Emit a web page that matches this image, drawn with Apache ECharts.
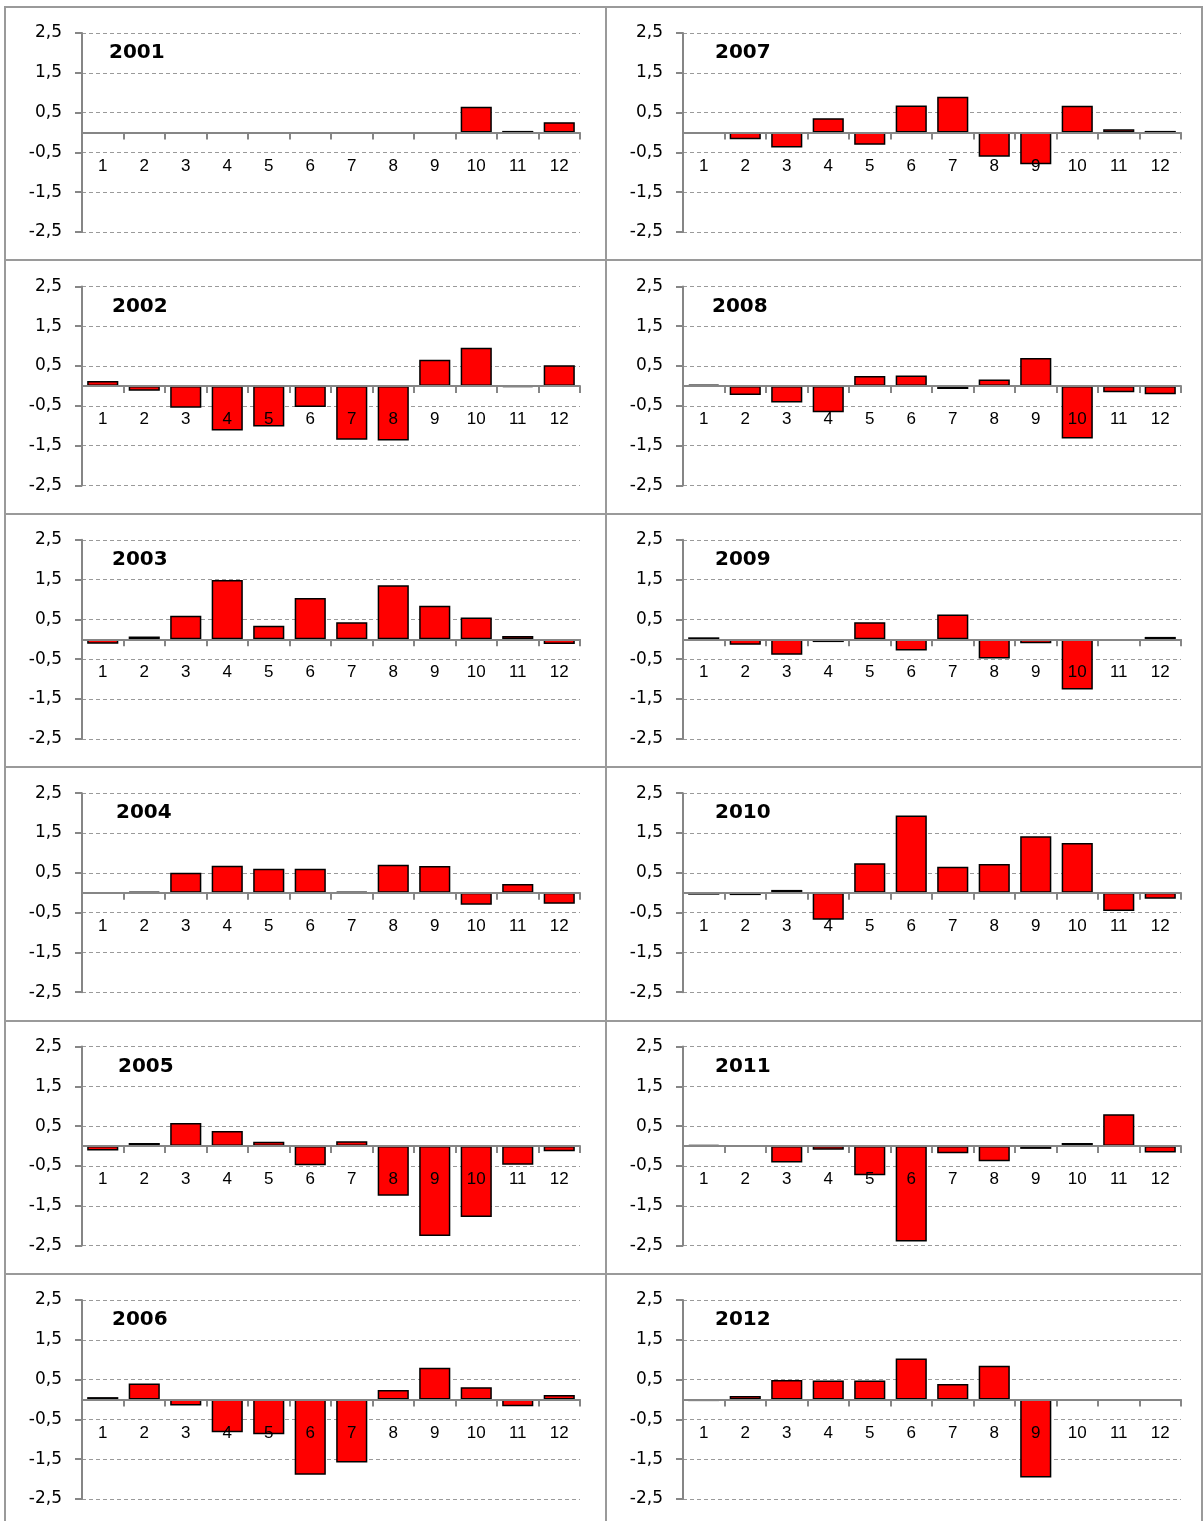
<!DOCTYPE html>
<html>
<head>
<meta charset="utf-8">
<script src="https://cdn.jsdelivr.net/npm/echarts@6/dist/echarts.min.js"></script>
<style>
  html, body { margin: 0; padding: 0; background: #fff; }
  #wrap { position: relative; width: 1203px; height: 1521px; }
  #main { position: absolute; left: 0; top: 0; width: 1203px; height: 1521px; }
  .rule { position: absolute; background: #9a9a9a; }
</style>
</head>
<body>
<div id="wrap"><div id="main"></div></div>
<script>
// monthly values, one array per year (null = no bar)
const months = ['1', '2', '3', '4', '5', '6', '7', '8', '9', '10', '11', '12'];
const years = ['2001', '2002', '2003', '2004', '2005', '2006', '2007', '2008', '2009', '2010', '2011', '2012'];
const yTicks = [-2.5, -1.5, -0.5, 0.5, 1.5, 2.5];

const v2001 = [null, null, null, null, null, null, null, null, null, 0.65, 0.04, 0.26];
const v2002 = [0.12, -0.12, -0.55, -1.12, -1.02, -0.53, -1.35, -1.37, 0.66, 0.96, -0.03, 0.52];
const v2003 = [-0.11, 0.07, 0.59, 1.49, 0.34, 1.04, 0.43, 1.36, 0.84, 0.55, 0.08, -0.12];
const v2004 = [-0.01, 0.02, 0.50, 0.68, 0.60, 0.60, 0.02, 0.70, 0.67, -0.30, 0.22, -0.28];
const v2005 = [-0.11, 0.08, 0.58, 0.38, 0.11, -0.48, 0.12, -1.25, -2.26, -1.78, -0.47, -0.13];
const v2006 = [0.06, 0.40, -0.15, -0.82, -0.87, -1.89, -1.58, 0.24, 0.80, 0.31, -0.17, 0.11];
const v2007 = [-0.01, -0.17, -0.38, 0.36, -0.31, 0.68, 0.90, -0.61, -0.80, 0.67, 0.08, 0.04];
const v2008 = [0.03, -0.23, -0.42, -0.66, 0.25, 0.26, -0.08, 0.16, 0.70, -1.32, -0.16, -0.21];
const v2009 = [0.05, -0.14, -0.39, -0.07, 0.43, -0.28, 0.62, -0.48, -0.10, -1.26, -0.02, 0.06];
const v2010 = [-0.05, -0.06, 0.07, -0.68, 0.74, 1.94, 0.65, 0.72, 1.42, 1.25, -0.46, -0.15];
const v2011 = [0.03, -0.01, -0.41, -0.09, -0.73, -2.40, -0.18, -0.38, -0.07, 0.08, 0.80, -0.16];
const v2012 = [-0.04, 0.09, 0.49, 0.48, 0.48, 1.03, 0.39, 0.85, -1.96, null, null, null];

const yearValues = [v2001, v2002, v2003, v2004, v2005, v2006, v2007, v2008, v2009, v2010, v2011, v2012];

// layout
const FAMILY = 'DejaVu Sans';
const COL_X = [82, 683];
const PLOT_W = 498, PLOT_H = 199;
const ROW_Y0 = 33, ROW_PITCH = 253.4;
const TITLE_DX = [27, 30, 30, 34, 36, 30, 32, 29, 32, 32, 32, 32];
const AXIS_GRAY = '#868686';

// table cell borders behind the (transparent) chart canvas
(function () {
	const wrap = document.getElementById('wrap');
	function rule(x, y, w, h) {
		const d = document.createElement('div');
		d.className = 'rule';
		d.style.left = x + 'px'; d.style.top = y + 'px';
		d.style.width = w + 'px'; d.style.height = h + 'px';
		wrap.insertBefore(d, wrap.firstChild);
	}
	for (let k = 0; k < 6; k++) rule(4, Math.round(6 + k * ROW_PITCH), 1199, 2);
	[4, 605, 1201].forEach(function (x) { rule(x, 6, 2, 1515); });
})();

const chart = echarts.init(document.getElementById('main'));

const grids = [], xAxes = [], yAxes = [], series = [], titles = [];
years.forEach(function (yr, i) {
	const col = i < 6 ? 0 : 1;
	const row = i % 6;
	const gLeft = COL_X[col];
	const gTop = ROW_Y0 + row * ROW_PITCH;
	grids.push({ left: gLeft, top: gTop, width: PLOT_W, height: PLOT_H });
	titles.push({
		text: yr,
		left: gLeft + TITLE_DX[i],
		top: gTop + 10,
		padding: 0,
		textStyle: { fontFamily: FAMILY, fontSize: 20, fontWeight: 'bold', color: '#000' }
	});
	// the category axis sits on the zero line, which is mid-height since the range is symmetric
	xAxes.push({
		type: 'category',
		gridIndex: i,
		data: months,
		position: 'bottom',
		offset: -PLOT_H / 2,
		z: 5,
		axisLine: { show: true, onZero: false, lineStyle: { color: AXIS_GRAY, width: 2 } },
		axisTick: { show: true, length: 7, lineStyle: { color: AXIS_GRAY, width: 2 } },
		axisLabel: { interval: 0, margin: 25, fontSize: 17, color: '#000' },
		splitLine: { show: false }
	});
	yAxes.push({
		type: 'value',
		gridIndex: i,
		min: yTicks[0],
		max: yTicks[yTicks.length - 1],
		interval: 1,
		axisLine: { show: true, onZero: false, lineStyle: { color: AXIS_GRAY, width: 2 } },
		axisTick: { show: true, length: 7, lineStyle: { color: AXIS_GRAY, width: 2 } },
		axisLabel: {
			margin: 20, fontFamily: FAMILY, fontSize: 17, color: '#000',
			formatter: function (v) { return String(v).replace('.', ','); }
		},
		splitLine: { show: true, lineStyle: { type: [4, 3], color: '#9a9a9a', width: 1 } }
	});
	series.push({
		type: 'bar',
		xAxisIndex: i,
		yAxisIndex: i,
		data: yearValues[i],
		barCategoryGap: '25%',
		itemStyle: { color: '#ff0000', borderColor: '#000', borderWidth: 1.5 }
	});
});

chart.setOption({
	animation: false,
	title: titles,
	grid: grids,
	xAxis: xAxes,
	yAxis: yAxes,
	series: series
});
</script>
</body>
</html>
